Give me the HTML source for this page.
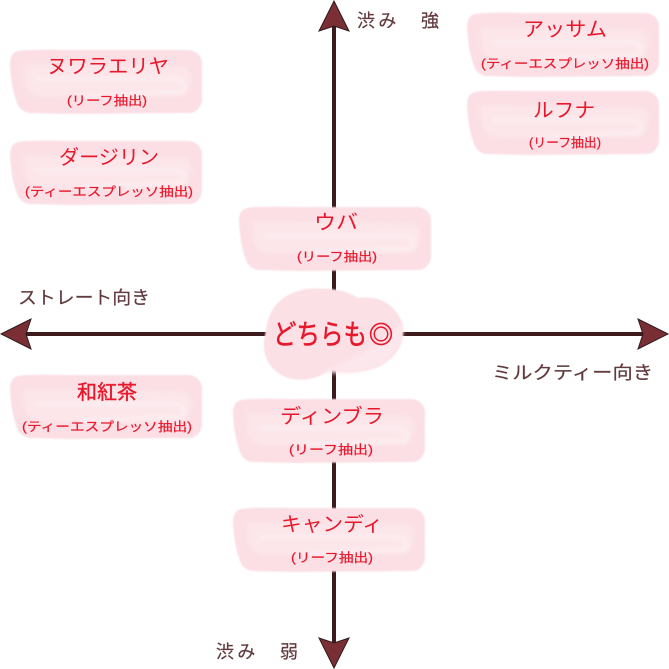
<!DOCTYPE html>
<html lang="ja"><head><meta charset="utf-8"><style>
html,body{margin:0;padding:0;background:#fff}
svg{display:block}
text{font-family:"Liberation Sans","WenQuanYi Zen Hei","Noto Sans CJK JP",sans-serif}
.t{fill:#e8182c;font-size:20px;text-anchor:middle}
.s{fill:#e8182c;font-size:12.5px;text-anchor:middle;stroke:#e8182c;stroke-width:.2}
.l{fill:#623a3e;font-size:18px;stroke:#623a3e;stroke-width:.2}
</style></head><body>
<svg width="669" height="669" viewBox="0 0 669 669" xmlns="http://www.w3.org/2000/svg">
<defs>
<filter id="f" x="-5%" y="-10%" width="110%" height="120%"><feGaussianBlur stdDeviation="0.8"/></filter>
<filter id="g" x="-10%" y="-30%" width="120%" height="160%"><feGaussianBlur stdDeviation="2"/></filter>
<g id="b">
<path d="M8 1 Q20 -1 60 0 L178 0 Q190 1 192 12 L192 50 Q190 62 180 63 L60 64 L20 63 Q9 62 6 50 Q1 36 0 14 Q0 3 8 1Z" fill="#fbdfe5" filter="url(#f)"/>
<path d="M14 14 L172 16 Q182 18 181 30 Q180 44 170 45 L30 47 Q15 44 14 30Z" fill="#fce6ea" filter="url(#g)"/>
<path d="M26 29 L168 29 Q177 33 172 42 L70 46" fill="none" stroke="#fdeef1" stroke-width="4" filter="url(#g)"/>
</g>
</defs>
<g stroke="#3d1a1c" stroke-width="4" fill="none">
<path d="M334 18V652"/>
<path d="M18 334H652"/>
</g>
<g fill="#7a2f35" stroke="#2f1a1a" stroke-width="1">
<path d="M334 1 L349 31 L334 26 L319 31Z"/>
<path d="M334 668 L349 638 L334 643 L319 638Z"/>
<path d="M1 334 L31 319 L26 334 L31 349Z"/>
<path d="M668 334 L638 319 L643 334 L638 349Z"/>
</g>
<use href="#b" x="10" y="50"/>
<use href="#b" x="10" y="141"/>
<use href="#b" x="239" y="207"/>
<use href="#b" x="467" y="13"/>
<use href="#b" x="467" y="91"/>
<use href="#b" x="10" y="375"/>
<use href="#b" x="233" y="399"/>
<use href="#b" x="233" y="508"/>
<path d="M266 330 Q270 296 306 289 Q340 286 358 298 Q390 294 402 322 Q408 350 380 366 Q358 376 330 370 Q310 384 288 378 Q262 368 264 340Z" fill="#fbe0e6" filter="url(#f)"/>
<path d="M320 372 Q356 376 382 364 Q406 348 402 322 Q380 350 320 372Z" fill="#fce8ec" filter="url(#g)"/>
<g class="x">
<text class="t" x="108" y="73" textLength="122" lengthAdjust="spacingAndGlyphs">ヌワラエリヤ</text>
<text class="s" x="107" y="105" textLength="80" lengthAdjust="spacingAndGlyphs">(リーフ抽出)</text>
<text class="t" x="109" y="164" textLength="100" lengthAdjust="spacingAndGlyphs">ダージリン</text>
<text class="s" x="109" y="196" textLength="168" lengthAdjust="spacingAndGlyphs">(ティーエスプレッソ抽出)</text>
<text class="t" x="336" y="229" textLength="44" lengthAdjust="spacingAndGlyphs">ウバ</text>
<text class="s" x="337" y="261" textLength="80" lengthAdjust="spacingAndGlyphs">(リーフ抽出)</text>
<text class="t" x="565" y="36" textLength="84" lengthAdjust="spacingAndGlyphs">アッサム</text>
<text class="s" x="565" y="68" textLength="168" lengthAdjust="spacingAndGlyphs">(ティーエスプレッソ抽出)</text>
<text class="t" x="564" y="117" textLength="62" lengthAdjust="spacingAndGlyphs">ルフナ</text>
<text class="s" x="565" y="147" textLength="72" lengthAdjust="spacingAndGlyphs">(リーフ抽出)</text>
<text class="t" x="107" y="399" textLength="60" lengthAdjust="spacingAndGlyphs" style="stroke:#e8182c;stroke-width:.4">和紅茶</text>
<text class="s" x="107" y="431" textLength="170" lengthAdjust="spacingAndGlyphs">(ティーエスプレッソ抽出)</text>
<text class="t" x="332" y="423" textLength="104" lengthAdjust="spacingAndGlyphs">ディンブラ</text>
<text class="s" x="331" y="454" textLength="84" lengthAdjust="spacingAndGlyphs">(リーフ抽出)</text>
<text class="t" x="332" y="531" textLength="102" lengthAdjust="spacingAndGlyphs">キャンディ</text>
<text class="s" x="332" y="562" textLength="82" lengthAdjust="spacingAndGlyphs">(リーフ抽出)</text>
<text x="320" y="344" style="fill:#e8182c;stroke:#e8182c;stroke-width:.5;font-size:28px;text-anchor:middle" textLength="94" lengthAdjust="spacingAndGlyphs">どちらも</text>
<text x="381" y="343" style="fill:#e8182c;stroke:#e8182c;stroke-width:.7;font-size:24px;text-anchor:middle">◎</text>
<text class="l" x="357" y="27" textLength="82" lengthAdjust="spacing">渋み　強</text>
<text class="l" x="216" y="658" textLength="82" lengthAdjust="spacing">渋み　弱</text>
<text class="l" x="18" y="304" textLength="132" lengthAdjust="spacingAndGlyphs">ストレート向き</text>
<text class="l" x="492" y="379" textLength="161" lengthAdjust="spacingAndGlyphs">ミルクティー向き</text>
</g>
</svg>
</body></html>
